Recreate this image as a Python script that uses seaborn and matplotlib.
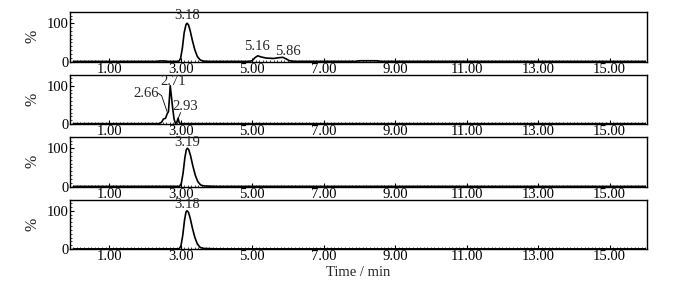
import numpy as np
import pandas as pd
import matplotlib
matplotlib.use("Agg")
import matplotlib.pyplot as plt
from matplotlib.ticker import MultipleLocator, FixedLocator
import seaborn as sns

# chromatogram traces (time in min, relative intensity in %)
t1 = [0.0, 2.3, 2.45, 2.55, 2.65, 2.95, 3.0, 3.05, 3.1, 3.15, 3.18, 3.22, 3.27, 3.33, 3.4,
      3.47, 3.55, 3.65, 3.8, 4.9, 5.0, 5.08, 5.16, 5.25, 5.4, 5.6, 5.75, 5.86, 5.95, 6.05,
      6.2, 7.9, 8.0, 8.5, 8.6, 16.0]
y1 = [0.3, 0.3, 1.5, 1.5, 0.3, 0.5, 8, 35, 75, 96, 100, 96, 80, 55, 30,
      13, 4, 1, 0.3, 0.3, 2, 10, 15, 12, 9, 8, 10, 11, 7, 2,
      0.5, 0.5, 2, 2, 0.5, 0.3]

t2 = [0.0, 2.4, 2.47, 2.52, 2.58, 2.63, 2.66, 2.69, 2.71, 2.74, 2.78, 2.82, 2.86, 2.9,
      2.93, 2.96, 3.0, 16.0]
y2 = [1, 1, 5, 13, 15, 28, 32, 70, 100, 75, 40, 12, 1, 6,
      15, 4, 1, 1]

t3 = [0.0, 2.97, 3.02, 3.07, 3.12, 3.16, 3.19, 3.23, 3.28, 3.34, 3.41, 3.48, 3.56, 3.66,
      3.8, 4.0, 16.0]
y3 = [0.3, 0.5, 8, 35, 75, 96, 100, 96, 80, 55, 30, 13, 4, 1.5, 1, 0.4, 0.3]

t4 = [0.0, 2.96, 3.01, 3.06, 3.11, 3.15, 3.18, 3.22, 3.27, 3.33, 3.4, 3.47, 3.55, 3.65,
      3.8, 4.0, 16.0]
y4 = [0.3, 0.5, 8, 35, 75, 96, 100, 96, 80, 55, 30, 13, 4, 1.5, 1, 0.4, 0.3]

# peak labels: (text, x, y)
labels1 = [("3.18", 3.18, 120), ("5.16", 5.13, 39), ("5.86", 6.0, 26)]
labels2 = [("2.66", 2.05, 80), ("2.71", 2.78, 112), ("2.93", 3.13, 45)]
labels3 = [("3.19", 3.19, 116)]
labels4 = [("3.18", 3.18, 116)]

xticks = [1, 3, 5, 7, 9, 11, 13, 15]

sns.set_style("ticks")
plt.rcParams["font.family"] = ["Liberation Serif", "DejaVu Serif"]
plt.rcParams["font.size"] = 10

fig = plt.figure(figsize=(6.84, 2.82), dpi=100)
gs = fig.add_gridspec(4, 1, left=0.102, right=0.946, top=0.957, bottom=0.117, hspace=0.265)

traces = [(t1, y1, labels1), (t2, y2, labels2), (t3, y3, labels3), (t4, y4, labels4)]
axes = []
for i, (t, y, labs) in enumerate(traces):
    ax = fig.add_subplot(gs[i])
    df = pd.DataFrame({"time": t, "pct": y})
    sns.lineplot(data=df, x="time", y="pct", ax=ax, color="black", lw=1.2)
    ax.set_xlim(-0.1, 16.05)
    ax.set_ylim(0, 129)
    ax.xaxis.set_major_locator(FixedLocator(xticks))
    ax.set_xticklabels([f"{v:.2f}" for v in xticks])
    ax.xaxis.set_minor_locator(MultipleLocator(0.1))
    ax.yaxis.set_major_locator(FixedLocator([0, 100]))
    ax.yaxis.set_minor_locator(MultipleLocator(10))
    ax.tick_params(axis="both", which="major", direction="in", length=3, width=0.8,
                   pad=1, labelsize=10.5, colors="black")
    ax.tick_params(axis="both", which="minor", direction="in", length=1.5, width=0.6)
    for s in ax.spines.values():
        s.set_linewidth(1.0)
        s.set_color("black")
    ax.set_xlabel("")
    ax.set_ylabel("%", fontsize=11.5, labelpad=4)
    for txt, x, yy in labs:
        ax.text(x, yy, txt, ha="center", va="center", fontsize=10.5, clip_on=False, zorder=5)
    axes.append(ax)

# leader lines for the labelled peaks in panel 2
axes[1].plot([2.38, 2.47, 2.62], [80, 74, 33], color="black", lw=0.6)
axes[1].plot([2.93, 3.0], [14, 30], color="black", lw=0.6)

axes[-1].set_xlabel("Time / min", fontsize=10.5, labelpad=2)

fig.savefig("out.png", dpi=100)
